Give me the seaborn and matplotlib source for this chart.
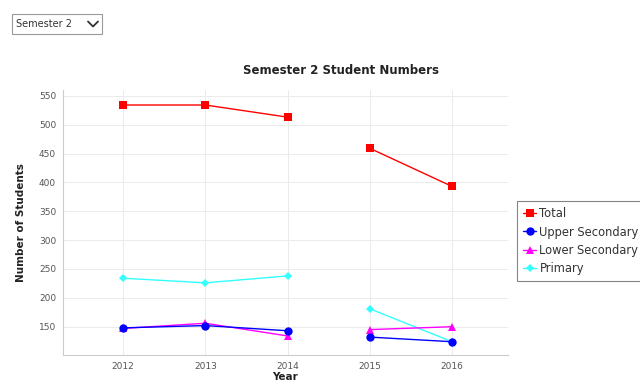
import matplotlib
matplotlib.use("Agg")
import matplotlib.pyplot as plt
from matplotlib.lines import Line2D
from matplotlib.patches import Rectangle
import numpy as np
import pandas as pd
import seaborn as sns

years = ["2012", "2013", "2014", "2015", "2016"]
segments = [0, 0, 0, 1, 1]  # the series break between 2014 and 2015
total = [534, 534, 513, 459, 393]
upper_secondary = [148, 152, 143, 132, 124]
lower_secondary = [147, 156, 134, 145, 150]
primary = [234, 226, 238, 181, 124]

series_names = ["Total", "Upper Secondary", "Lower Secondary", "Primary"]
series_values = [total, upper_secondary, lower_secondary, primary]
colors = ["#ff0000", "#0000ff", "#ff00ff", "#33ffff"]
markers = ["s", "o", "^", "D"]
marker_sizes = [6, 6, 6, 4.5]

rows = []
for name, vals in zip(series_names, series_values):
    for i, (yr, v, seg) in enumerate(zip(years, vals, segments)):
        rows.append({"pos": i, "Year": yr, "value": v, "series": name,
                     "segment": f"{name}-{seg}"})
df = pd.DataFrame(rows)

sns.set_theme(style="white")
plt.rcParams["font.family"] = ["DejaVu Sans"]

fig = plt.figure(figsize=(6.4, 3.85), dpi=100)
W, H = 640, 385
ax = fig.add_axes([63 / W, 1 - 355 / H, (508 - 63) / W, (355 - 90) / H])

# draw the smaller series first so Total/Upper Secondary sit on top
for name, col, mk, ms in list(zip(series_names, colors, markers, marker_sizes))[::-1]:
    sub = df[df["series"] == name]
    sns.lineplot(data=sub, x="pos", y="value", units="segment", estimator=None,
                 color=col, marker=mk, markersize=ms, markeredgewidth=0,
                 linewidth=1.0, ax=ax, legend=False, zorder=3)

ax.set_xlim(-0.73, 4.68)
ax.set_ylim(101, 560)
ax.set_xticks(range(len(years)))
ax.set_xticklabels(years)
ax.set_yticks([150, 200, 250, 300, 350, 400, 450, 500, 550])
ax.tick_params(axis="both", labelsize=6.5, colors="#555555", length=2,
               width=0.6, pad=3)
ax.tick_params(axis="x", length=0, pad=5)
ax.grid(True, color="#ebebeb", linewidth=0.7)
for side in ["top", "right"]:
    ax.spines[side].set_visible(False)
for side in ["left", "bottom"]:
    ax.spines[side].set_color("#cccccc")
    ax.spines[side].set_linewidth(0.8)

ax.set_xlabel("Year", fontsize=7.5, fontweight="bold", color="#222222",
              labelpad=1)
ax.set_ylabel("Number of Students", fontsize=7.5, fontweight="bold",
              color="#222222", labelpad=9)

fig.text(341 / W, 1 - 71 / H, "Semester 2 Student Numbers", fontsize=8.5,
         fontweight="bold", ha="center", va="center", color="#222222")

# Legend
handles = [Line2D([0], [0], color=c, marker=m, markersize=ms, linewidth=1.0,
                  markeredgewidth=0)
           for c, m, ms in zip(colors, markers, marker_sizes)]
leg = fig.legend(handles, series_names, loc="upper left",
                 bbox_to_anchor=(517 / W, 1 - 201 / H), fontsize=8.3,
                 frameon=True, fancybox=False, handlelength=1.1,
                 handletextpad=0.3, borderpad=0.55, labelspacing=0.45,
                 borderaxespad=0)
leg.get_frame().set_edgecolor("#666666")
leg.get_frame().set_linewidth(0.8)
for t in leg.get_texts():
    t.set_color("#333333")

# Semester selector
fig.patches.append(Rectangle((12 / W, 1 - 34 / H), 90 / W, 20 / H,
                             transform=fig.transFigure, facecolor="white",
                             edgecolor="#999999", linewidth=0.8))
fig.text(16 / W, 1 - 24 / H, "Semester 2", fontsize=7, color="#333333",
         ha="left", va="center")
fig.lines.append(Line2D([88 / W, 93 / W, 98 / W],
                        [1 - 21.5 / H, 1 - 26.5 / H, 1 - 21.5 / H],
                        transform=fig.transFigure, color="#333333",
                        linewidth=1.3))

fig.savefig("out.png", dpi=100)
